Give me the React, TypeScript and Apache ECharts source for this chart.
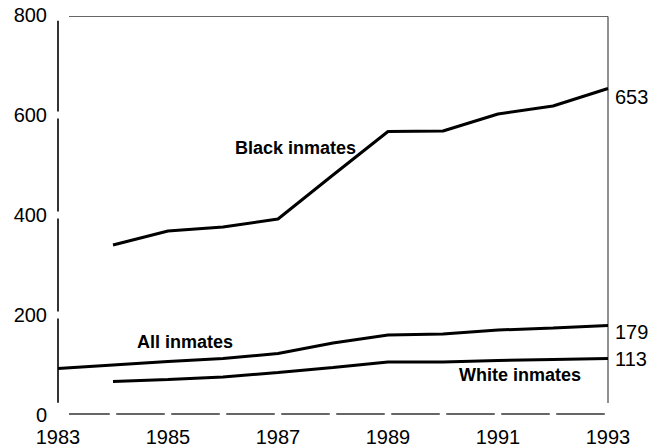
import React, { useEffect, useRef } from "react";
import * as echarts from "echarts";

const years = ["1983", "1984", "1985", "1986", "1987", "1988", "1989", "1990", "1991", "1992", "1993"];
const blackInmates = [null, 340, 368, 376, 392, 480, 567, 568, 602, 618, 653];
const allInmates = [93, 100, 107, 113, 123, 144, 160, 162, 170, 174, 179];
const whiteInmates = [null, 67, 71, 76, 85, 95, 106, 106, 109, 111, 113];
const yTickValues = [0, 200, 400, 600, 800];

const FONT = '"Liberation Sans", Arial, Helvetica, sans-serif';

export default function App() {
  const ref = useRef<HTMLDivElement>(null);
  useEffect(() => {
    document.body.style.margin = "0";
    const chart = echarts.init(ref.current!, null, { renderer: "svg" });
    const lineSeries = (name: string, data: (number | null)[], dy: number) => ({
      name,
      type: "line",
      data,
      showSymbol: false,
      symbol: "none",
      lineStyle: { color: "#000", width: 3 },
      itemStyle: { color: "#000" },
      endLabel: {
        show: true,
        formatter: "{c}",
        distance: 7,
        offset: [0, dy],
        fontSize: 20,
        fontFamily: FONT,
        color: "#000",
      },
      z: 3,
    });
    const texts = [
      { type: "text", x: 235, y: 148, style: { text: "Black inmates", font: `bold 18px ${FONT}`, fill: "#000", verticalAlign: "middle" } },
      { type: "text", x: 137, y: 342, style: { text: "All inmates", font: `bold 18px ${FONT}`, fill: "#000", verticalAlign: "middle" } },
      { type: "text", x: 459, y: 375, style: { text: "White inmates", font: `bold 18px ${FONT}`, fill: "#000", verticalAlign: "middle" } },
    ];
    chart.setOption({
      animation: false,
      grid: { left: 58, right: 56, top: 15, bottom: 32, containLabel: false, outerBoundsMode: "none" },
      xAxis: {
        type: "category",
        data: years,
        boundaryGap: false,
        axisLine: { show: false },
        axisTick: { show: false },
        axisLabel: { interval: 1, fontSize: 20, lineHeight: 18, fontFamily: FONT, color: "#000", margin: 13 },
        splitLine: { show: false },
      },
      yAxis: {
        type: "value",
        min: yTickValues[0],
        max: yTickValues[yTickValues.length - 1],
        interval: 200,
        axisLine: { show: false },
        axisTick: { show: false },
        axisLabel: { fontSize: 20, fontFamily: FONT, color: "#000", margin: 11 },
        splitLine: { show: false },
      },
      graphic: texts,
      series: [
        lineSeries("Black inmates", blackInmates, 8),
        lineSeries("All inmates", allInmates, 6),
        lineSeries("White inmates", whiteInmates, 0),
      ],
    });

    // Axis frame drawn from the chart's own scales
    const px = (i: number) => chart.convertToPixel({ xAxisIndex: 0 }, years[i]) as number;
    const py = (v: number) => chart.convertToPixel({ yAxisIndex: 0 }, v) as number;
    const frame: any[] = [];
    const seg = (x1: number, y1: number, x2: number, y2: number, stroke: string, lineWidth: number) =>
      frame.push({ type: "line", shape: { x1, y1, x2, y2 }, style: { stroke, lineWidth }, silent: true });
    const y0 = py(yTickValues[0]);
    const yTop = py(yTickValues[yTickValues.length - 1]);
    const xL = px(0);
    const xR = px(years.length - 1);
    // bottom dashed axis: one dash per year interval
    for (let i = 0; i < years.length - 1; i++) {
      seg(px(i) + (i === 0 ? 11 : 3.25), y0 - 1, px(i + 1) - 3.25, y0 - 1, "#333", 1.7);
    }
    // left axis: one segment per y interval
    for (let j = 0; j < yTickValues.length - 1; j++) {
      const a = py(yTickValues[j]) - (j === 0 ? 12.3 : 3.5);
      const b = py(yTickValues[j + 1]) + (j === yTickValues.length - 2 ? 5.7 : 3.5);
      seg(xL, a, xL, b, "#333", 2);
    }
    // top and right frame
    seg(xL + 11, yTop + 1.5, xR, yTop + 1.5, "#666", 1);
    seg(xR, yTop + 1.5, xR, y0 - 12, "#222", 1);
    chart.setOption({ graphic: [...texts, ...frame] });
    return () => chart.dispose();
  }, []);
  return <div ref={ref} style={{ width: 664, height: 447 }} />;
}
